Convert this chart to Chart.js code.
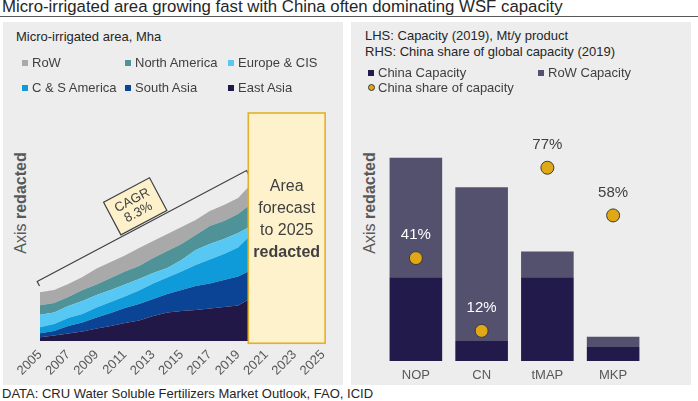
<!DOCTYPE html>
<html>
<head>
<meta charset="utf-8">
<script src="https://cdn.jsdelivr.net/npm/chart.js@4.4.1/dist/chart.umd.min.js"></script>
<style>
  html, body { margin: 0; padding: 0; background: #fff; }
  body { width: 698px; height: 401px; position: relative; overflow: hidden; font-family: "Liberation Sans", Arial, sans-serif; color: #262626; }
  #title { position: absolute; left: 2px; top: -2px; font-size: 16.8px; line-height: 17px; white-space: nowrap; }
  #rule { position: absolute; left: 0; top: 16px; width: 698px; height: 1px; background: #595959; }
  .panel { position: absolute; top: 22px; width: 340px; height: 363px; background: #ededed; }
  #leftPanel { left: 3px; }
  #rightPanel { left: 351px; }
  .panel canvas { position: absolute; left: 0; top: 0; }
  .sub { position: absolute; font-size: 13px; line-height: 16px; color: #262626; white-space: nowrap; }
  .leg { position: absolute; font-size: 13px; line-height: 16px; color: #404040; white-space: nowrap; }
  .sw { position: absolute; top: 5px; left: 0; width: 6px; height: 6px; }
  .dot { position: absolute; top: 4px; left: 0; width: 5px; height: 5px; border-radius: 50%; border: 1px solid #3a3a3a; }
  .axt { position: absolute; font-size: 16px; color: #595959; white-space: nowrap; transform: translate(-50%, -50%) rotate(-90deg); }
  #source { position: absolute; left: 2px; top: 386px; font-size: 13px; line-height: 15px; white-space: nowrap; }
</style>
</head>
<body>
<div id="title">Micro-irrigated area growing fast with China often dominating WSF capacity</div>
<div id="rule"></div>

<div class="panel" id="leftPanel">
  <div class="sub" style="left:13px; top:7px;">Micro-irrigated area, Mha</div>
  <div class="axt" style="left:18px; top:181px;">Axis <b>redacted</b></div>
  <canvas id="areaChart" width="340" height="363"></canvas>
</div>

<div class="panel" id="rightPanel">
  <div class="sub" style="left:14px; top:6px;">LHS: Capacity (2019), Mt/y product</div>
  <div class="sub" style="left:14px; top:22px;">RHS: China share of global capacity (2019)</div>
  <div class="axt" style="left:19px; top:181px;">Axis <b>redacted</b></div>
  <canvas id="capChart" width="340" height="363"></canvas>
</div>

<div id="source">DATA: CRU Water Soluble Fertilizers Market Outlook, FAO, ICID</div>

<script>
// ---- left chart: micro-irrigated area by region, Mha (stacked)
const years = [2005, 2006, 2007, 2008, 2009, 2010, 2011, 2012, 2013, 2014, 2015, 2016, 2017, 2018, 2019, 2020];
const eastAsia     = [0.74, 1.1, 1.5, 1.9, 2.5, 3.0, 3.6, 4.1, 5.0, 5.7, 6.0, 6.2, 6.5, 6.8, 7.1, 8.7];
const southAsia    = [0.8, 0.9, 1.5, 1.8, 2.2, 2.6, 3.0, 3.3, 3.4, 3.7, 4.2, 4.8, 5.0, 5.4, 5.8, 5.6];
const csAmerica    = [1.2, 1.4, 1.6, 1.7, 2.0, 2.2, 2.3, 2.7, 3.1, 3.3, 3.7, 4.2, 4.8, 5.2, 5.8, 7.2];
const europeCis    = [2.5, 2.3, 2.4, 2.6, 2.5, 2.4, 2.4, 2.3, 2.1, 1.9, 2.3, 3.0, 3.1, 3.0, 2.9, 1.6];
const northAmerica = [1.9, 1.9, 1.8, 2.2, 2.1, 2.4, 2.6, 2.6, 3.0, 3.4, 3.2, 3.0, 3.6, 3.6, 3.8, 4.5];
const restOfWorld  = [2.6, 2.6, 2.6, 2.6, 3.2, 3.2, 3.2, 3.6, 3.4, 3.4, 3.4, 3.0, 3.0, 3.2, 3.2, 4.0];
const yearTicks = [2005, 2007, 2009, 2011, 2013, 2015, 2017, 2019, 2021, 2023, 2025];
const cagrText = ['CAGR', '8.3%'];
const forecastText = ['Area', 'forecast', 'to 2025', 'redacted'];

const regionSeries = [
  { name: 'East Asia', values: eastAsia, color: '#211848' },
  { name: 'South Asia', values: southAsia, color: '#0c4495' },
  { name: 'C & S America', values: csAmerica, color: '#0f9bd9' },
  { name: 'Europe & CIS', values: europeCis, color: '#57c8f4' },
  { name: 'North America', values: northAmerica, color: '#4f9398' },
  { name: 'RoW', values: restOfWorld, color: '#a9a9a9' }
];

// ---- right chart: WSF capacity 2019
const products = ['NOP', 'CN', 'tMAP', 'MKP'];
const chinaCapacity = [1.67, 0.40, 1.67, 0.28];
const rowCapacity = [2.38, 3.06, 0.51, 0.205];
const chinaShare = [41, 12, 77, 58];

const FONT = '"Liberation Sans", Arial, sans-serif';
Chart.defaults.font.family = FONT;
Chart.defaults.animation = false;

// html legends laid out in a grid like the original
function addLegend(panelId, items, left0, top0, colW, rowH, cols) {
  const panel = document.getElementById(panelId);
  items.forEach((it, i) => {
    const d = document.createElement('div');
    d.className = 'leg';
    d.style.left = (left0 + (i % cols) * colW) + 'px';
    d.style.top = (top0 + Math.floor(i / cols) * rowH) + 'px';
    d.style.paddingLeft = '10px';
    const m = document.createElement('span');
    m.className = it.dot ? 'dot' : 'sw';
    m.style.background = it.color;
    d.appendChild(m);
    d.appendChild(document.createTextNode(it.name));
    panel.appendChild(d);
  });
}
addLegend('leftPanel', regionSeries.slice().reverse(), 19, 33, 103, 25, 3);

const annotate = {
  id: 'annotate',
  afterDatasetsDraw(chart) {
    const { ctx, scales: { x, y } } = chart;
    ctx.save();
    // CAGR bracket
    const x0 = x.getPixelForValue(2004.8), y0 = y.getPixelForValue(11.9);
    const x1 = x.getPixelForValue(2019.6), y1 = y.getPixelForValue(34.1);
    const ang = Math.atan2(y1 - y0, x1 - x0);
    const nx = -Math.sin(ang), ny = Math.cos(ang);
    ctx.strokeStyle = '#404040';
    ctx.lineWidth = 1.2;
    ctx.beginPath();
    ctx.moveTo(x0 + nx * 5, y0 + ny * 5);
    ctx.lineTo(x0, y0);
    ctx.lineTo(x1, y1);
    ctx.lineTo(x1 + nx * 5, y1 + ny * 5);
    ctx.stroke();

    ctx.save();
    ctx.translate(x.getPixelForValue(2011.73), y.getPixelForValue(26.94));
    ctx.rotate(ang);
    ctx.fillStyle = '#fdf1cb';
    ctx.fillRect(-26, -18.5, 52, 37);
    ctx.strokeRect(-26, -18.5, 52, 37);
    ctx.fillStyle = '#404040';
    ctx.font = '13px ' + FONT;
    ctx.textAlign = 'center';
    ctx.textBaseline = 'middle';
    ctx.fillText(cagrText[0], 0, -6.5);
    ctx.fillText(cagrText[1], 0, 7);
    ctx.restore();

    // forecast box
    const bx0 = x.getPixelForValue(2019.72), bx1 = x.getPixelForValue(2025.15);
    const by0 = y.getPixelForValue(45.6), by1 = y.getPixelForValue(-0.45);
    ctx.fillStyle = '#fef2cc';
    ctx.fillRect(bx0, by0, bx1 - bx0, by1 - by0);
    ctx.strokeStyle = '#e3b02a';
    ctx.lineWidth = 1.6;
    ctx.strokeRect(bx0, by0, bx1 - bx0, by1 - by0);
    ctx.fillStyle = '#404040';
    ctx.textAlign = 'center';
    ctx.textBaseline = 'middle';
    const cx = (bx0 + bx1) / 2, cy = (by0 + by1) / 2 - 9;
    forecastText.forEach((t, i) => {
      ctx.font = (i === 3 ? 'bold ' : '') + '16px ' + FONT;
      ctx.fillText(t, cx, cy + (i - 1.5) * 22);
    });
    ctx.restore();
  }
};

new Chart(document.getElementById('areaChart'), {
  type: 'line',
  data: {
    labels: years,
    datasets: regionSeries.map((s, i) => ({
      label: s.name,
      data: s.values.map((v, j) => ({ x: years[j], y: v })),
      backgroundColor: s.color,
      borderWidth: 0,
      pointRadius: 0,
      fill: i === 0 ? 'origin' : '-1'
    }))
  },
  options: {
    responsive: false,
    layout: { padding: { left: 37, right: 20, top: 89, bottom: 0 } },
    plugins: { legend: { display: false }, tooltip: { enabled: false } },
    scales: {
      x: {
        type: 'linear',
        min: 2005,
        max: 2025,
        grid: { display: false, drawTicks: false },
        border: { display: false },
        afterBuildTicks: (scale) => { scale.ticks = yearTicks.map(v => ({ value: v })); },
        afterFit: (scale) => { scale.height = 44; },
        ticks: {
          minRotation: 45,
          maxRotation: 45,
          padding: 6,
          color: '#595959',
          font: { size: 13 },
          callback: (v) => String(v)
        }
      },
      y: { display: false, stacked: true, min: 0, max: 46 }
    }
  },
  plugins: [annotate]
});

// ---- right chart
addLegend('rightPanel', [
  { name: 'China Capacity', color: '#221a4b' },
  { name: 'RoW Capacity', color: '#54516f' },
  { name: 'China share of capacity', color: '#e1a816', dot: true }
], 17, 43, 170, 15, 2);

const shareLabels = {
  id: 'shareLabels',
  afterDatasetsDraw(chart) {
    const ctx = chart.ctx;
    const pts = chart.getDatasetMeta(0).data;
    const tops = chart.getDatasetMeta(2).data;
    ctx.save();
    ctx.font = '15px ' + FONT;
    ctx.textAlign = 'center';
    ctx.textBaseline = 'middle';
    pts.forEach((p, i) => {
      const ty = p.y - 23;
      ctx.fillStyle = ty > tops[i].y + 8 ? '#ffffff' : '#404040';
      ctx.fillText(chinaShare[i] + '%', p.x, ty);
    });
    ctx.restore();
  }
};

new Chart(document.getElementById('capChart'), {
  data: {
    labels: products,
    datasets: [
      {
        type: 'line',
        label: 'China share of capacity',
        data: chinaShare,
        yAxisID: 'y2',
        showLine: false,
        pointRadius: 6.5,
        pointBackgroundColor: '#e1a816',
        pointBorderColor: '#3a3a3a',
        pointBorderWidth: 1,
        order: 0
      },
      {
        type: 'bar',
        label: 'China Capacity',
        data: chinaCapacity,
        backgroundColor: '#221a4b',
        barPercentage: 0.8,
        categoryPercentage: 1.0,
        order: 1
      },
      {
        type: 'bar',
        label: 'RoW Capacity',
        data: rowCapacity,
        backgroundColor: '#54516f',
        barPercentage: 0.8,
        categoryPercentage: 1.0,
        order: 1
      }
    ]
  },
  options: {
    responsive: false,
    layout: { padding: { left: 32, right: 45, top: 88, bottom: 0 } },
    plugins: { legend: { display: false }, tooltip: { enabled: false } },
    scales: {
      x: {
        stacked: true,
        grid: { display: false, drawTicks: false },
        border: { display: false },
        afterFit: (scale) => { scale.height = 24; },
        ticks: { padding: 7, color: '#595959', font: { size: 13 } }
      },
      y: { display: false, stacked: true, min: 0, max: 5 },
      y2: { display: false, position: 'right', min: 0, max: 100 }
    }
  },
  plugins: [shareLabels]
});
</script>
</body>
</html>
